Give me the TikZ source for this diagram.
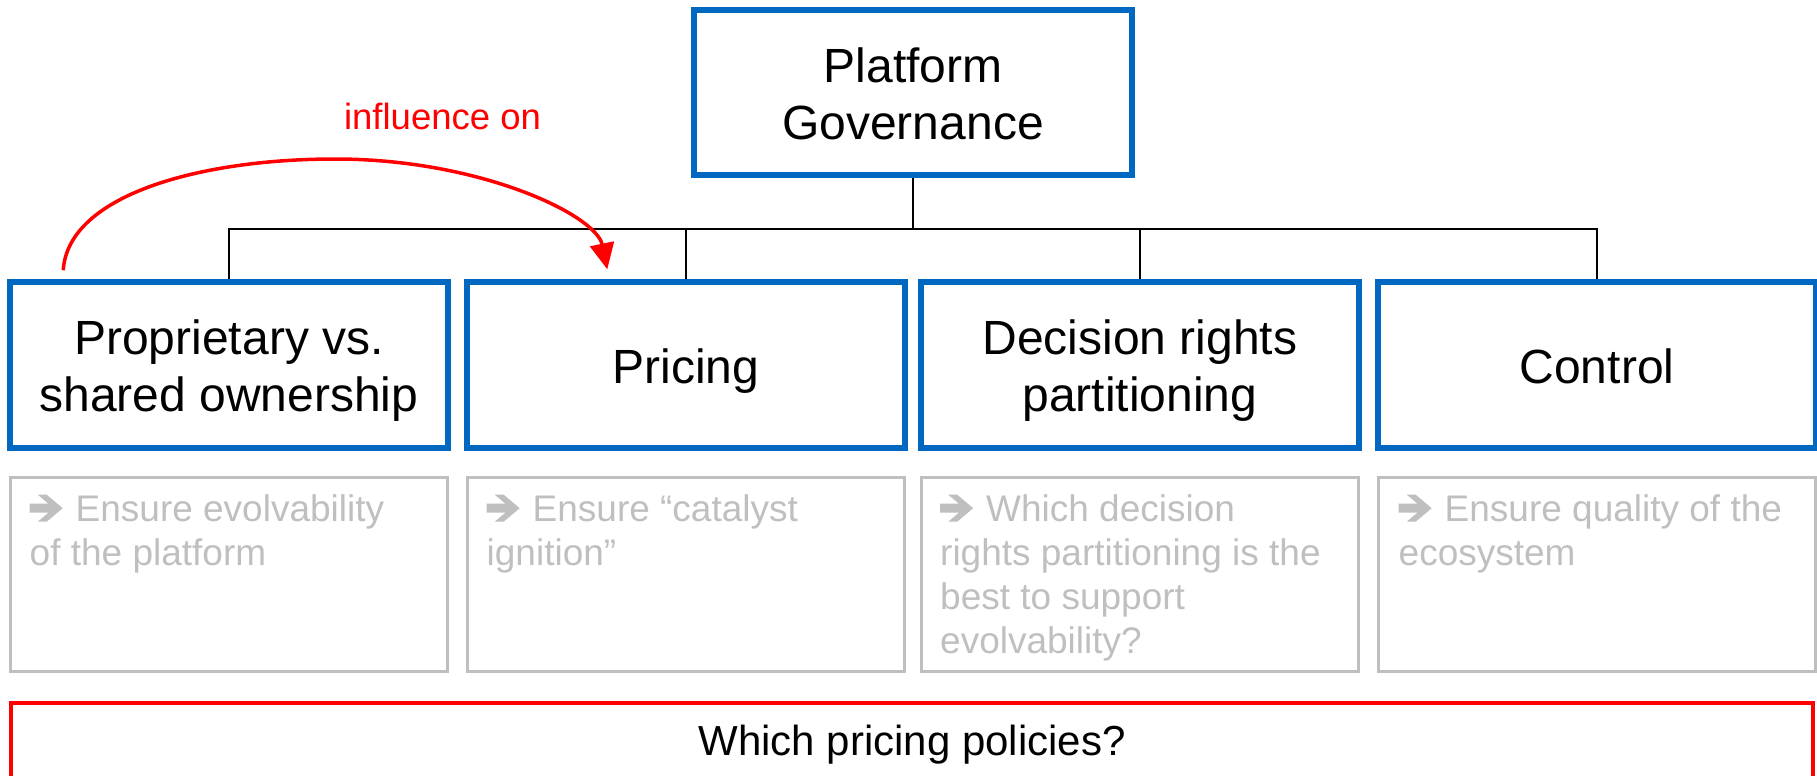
\documentclass[tikz,border=0pt]{standalone}
\usepackage{fontspec}
\setmainfont{Liberation Sans}
\usetikzlibrary{arrows.meta,calc,backgrounds}
\definecolor{gblue}{RGB}{0,104,192}
\definecolor{lgrey}{RGB}{191,191,191}
\newcommand\topst{\rule{0pt}{48pt}}
\newcommand\botst{\rule[-12pt]{0pt}{12pt}}
\newcommand\gst{\rule{0pt}{36pt}}
\newcommand\garr{\tikz[x=1pt,y=1pt,baseline=0pt]\fill[lgrey] (0,9)--(18.7,9)--(8,0)--(17,0)--(33,13.5)--(17,27)--(8,27)--(18.7,18)--(0,18)--cycle;\hspace{13pt}}
\begin{document}
\begin{tikzpicture}[x=1pt,y=-1pt,
  bluebox/.style={draw=gblue, line width=5.5pt, minimum width=438pt, minimum height=166pt,
    inner sep=0pt, align=center, font=\fontsize{48}{57}\selectfont},
  greybox/.style={draw=lgrey, line width=3pt, minimum width=437pt, minimum height=194pt, inner sep=0pt},
  greytext/.style={anchor=north west, inner sep=0pt, align=left, text=lgrey,
    font=\fontsize{37}{44}\selectfont},
  tree/.style={draw=black, line width=2.7pt},
  influence/.style={draw=red, line width=3.5pt, -{Triangle[length=26pt,width=24pt]}},
  ]
\clip (0,0) rectangle (1817,776);
\useasboundingbox (0,0) rectangle (1817,776);

% top box
\node[bluebox, minimum height=165pt] (top) at (913,92.5) {\topst Platform\\Governance\botst};

% child boxes
\node[bluebox] (b1) at (229,365) {\topst Proprietary vs.\\shared ownership\botst};
\node[bluebox] (b2) at (686,365) {\topst Pricing\botst};
\node[bluebox] (b3) at (1140,365) {\topst Decision rights\\partitioning\botst};
\node[bluebox] (b4) at (1597,365) {\topst Control\botst};

% grey boxes
\node[greybox] (g1) at (229,574.5) {};
\node[greybox] (g2) at (686,574.5) {};
\node[greybox] (g3) at (1139.5,574.5) {};
\node[greybox] (g4) at (1597,574.5) {};

\node[greytext] (t1) at ([xshift=20.5pt,yshift=-9.5pt]g1.north west)
  {\gst\garr Ensure evolvability\\of the platform};
\node[greytext] (t2) at ([xshift=20.5pt,yshift=-9.5pt]g2.north west)
  {\gst\garr Ensure “catalyst\\ignition”};
\node[greytext] (t3) at ([xshift=20.5pt,yshift=-9.5pt]g3.north west)
  {\gst\garr Which decision\\rights partitioning is the\\best to support\\evolvability?};
\node[greytext] (t4) at ([xshift=21.5pt,yshift=-9.5pt]g4.north west)
  {\gst\garr Ensure quality of the\\ecosystem};

% bottom red box
\node[draw=red, line width=4pt, minimum width=1802pt, minimum height=82pt, inner sep=0pt,
  text height=31pt, text depth=9pt, font=\fontsize{42}{50}\selectfont]
  (q) at (912,744) {Which pricing policies?};

% influence label and arc
\node[text=red, anchor=base, inner sep=0pt, font=\fontsize{36.5}{44}\selectfont]
  (lab) at (442.5,129) {influence on};
\coordinate (arcS) at ($(b1.north west)+(56,-9)$);
\coordinate (arcE) at ($(b2.north west)+(143,-10)$);
\draw[influence] (arcS) .. controls (68,195) and (200,159) .. (335,159)
  .. controls (480,159) and (596,215) .. (arcE);

% tree connectors
\coordinate (bar) at (913,229);
\begin{scope}[on background layer]
\draw[tree] (top.south) -- (bar);
\draw[tree] (b1.north) |- (bar);
\draw[tree] (b2.north) |- (bar);
\draw[tree] (b3.north) |- (bar);
\draw[tree] (b4.north) |- (bar);
\end{scope}
\end{tikzpicture}
\end{document}
